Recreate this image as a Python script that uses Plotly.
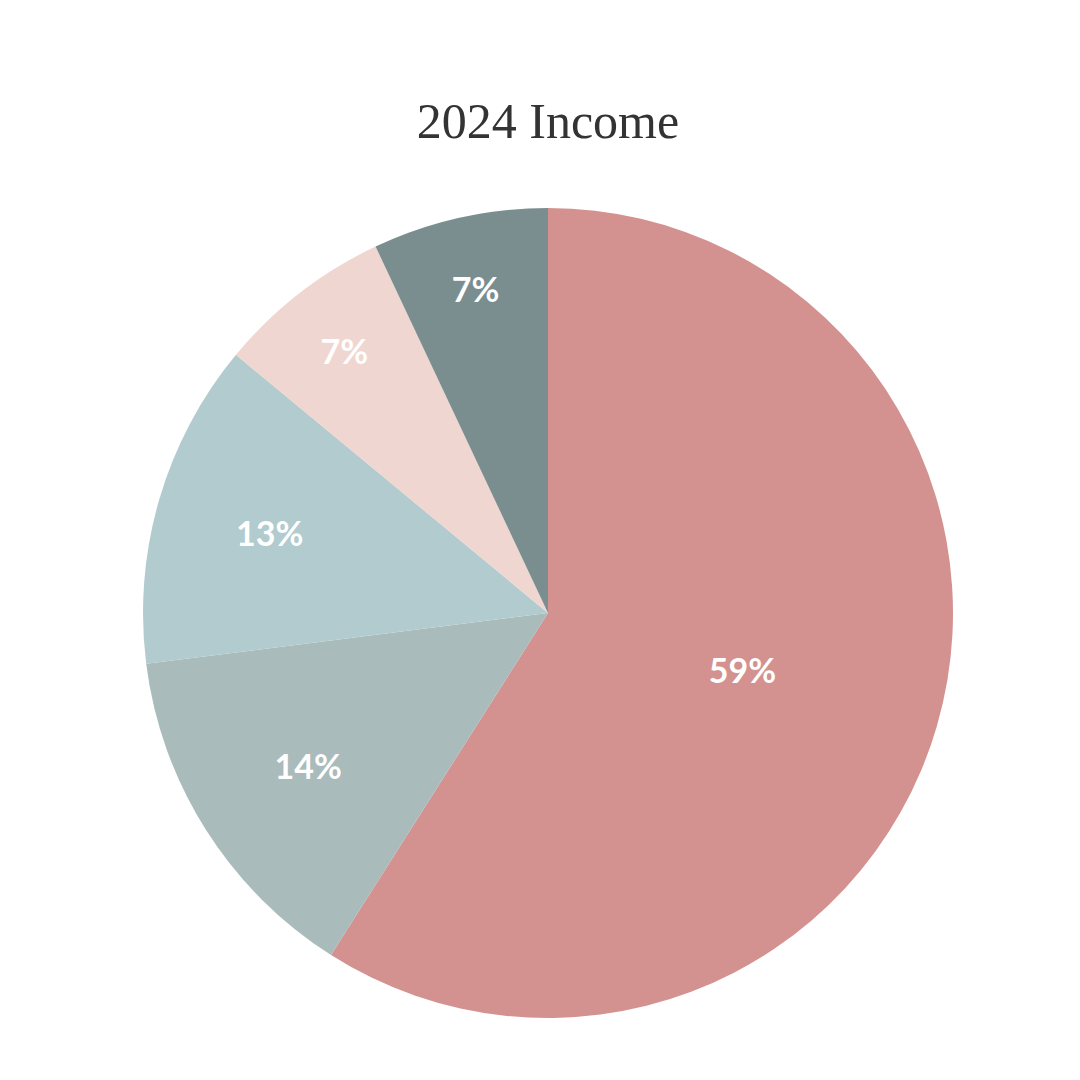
import plotly.graph_objects as go

# income share by source, clockwise from the top
labels = ["Source A", "Source B", "Source C", "Source D", "Source E"]
shares = [59, 14, 13, 7, 7]
colors = ["#D39290", "#A9BBBB", "#B2CBCE", "#F0D6D0", "#7A8E8F"]

fig = go.Figure(
    go.Pie(
        labels=labels,
        values=shares,
        sort=False,
        direction="clockwise",
        rotation=0,
        marker=dict(colors=colors, line=dict(width=0)),
        texttemplate="<b>%{value}%</b>",
        textposition="inside",
        insidetextorientation="horizontal",
        textfont=dict(size=34, color="white", family="Lato"),
        showlegend=False,
        hoverinfo="label+percent",
    )
)

fig.update_layout(
    width=1080,
    height=1080,
    margin=dict(l=135, r=135, t=200, b=70),
    title=dict(
        text="2024 Income",
        x=0.5,
        xanchor="center",
        y=1 - 112 / 1080,
        yanchor="middle",
        font=dict(size=50, color="#333333", family="Liberation Serif"),
    ),
    paper_bgcolor="#ffffff",
)

fig.write_html("out.html")
